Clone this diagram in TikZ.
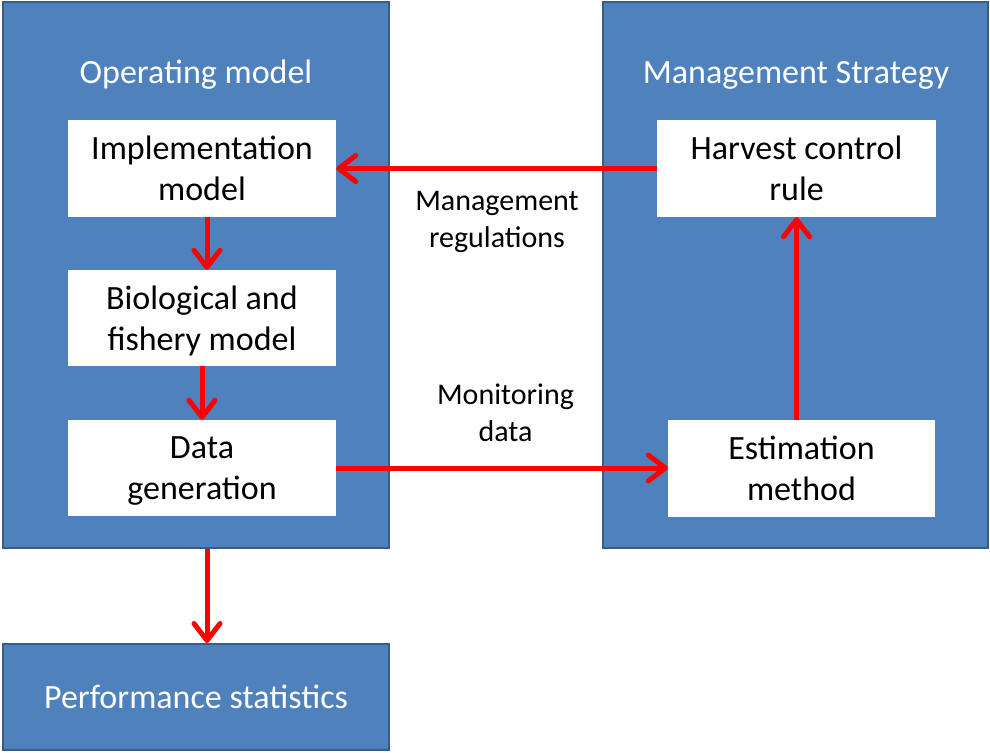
\documentclass[tikz,border=0pt]{standalone}
\usepackage{fontspec}
\setmainfont{Carlito}
\usetikzlibrary{arrows.meta}
\definecolor{panelblue}{HTML}{4F81BD}
\definecolor{paneledge}{HTML}{385D8A}
\definecolor{flowred}{HTML}{FF0000}
\tikzset{
  panel/.style={draw=paneledge, line width=2pt, fill=panelblue, inner sep=0pt},
  stage/.style={fill=white, inner sep=0pt, align=center, text=black,
    text depth=0pt,
    font=\fontsize{34}{41}\selectfont},
  title/.style={text=white, inner sep=0pt, font=\fontsize{34}{40}\selectfont},
  flowlabel/.style={inner sep=0pt, align=center, font=\fontsize{30}{37}\selectfont},
  flow/.style={draw=flowred, line width=5pt,
    -{Straight Barb[length=17pt,width=26pt,line cap=round,line join=round]}}
}
\begin{document}
\begin{tikzpicture}[x=1pt,y=-1pt]
  \useasboundingbox (0,0) rectangle (990,752);

  % outer panels
  \node[panel, minimum width=386pt, minimum height=546pt] (opm) at (196,275) {};
  \node[panel, minimum width=385pt, minimum height=546pt] (mgs) at (795.5,275) {};
  \node[panel, minimum width=386pt, minimum height=106pt, text=white,
        font=\fontsize{34}{40}\selectfont] (perf) at (196,697) {Performance statistics};

  % panel titles
  \node[title, anchor=base] (opmtitle) at (196,83) {Operating model};
  \node[title, anchor=base] (mgstitle) at (796,83) {Management Strategy};

  % stages of the operating model
  \node[stage, minimum width=268pt, minimum height=97pt] (impl) at (202,168.5) {Implementation\\model};
  \node[stage, minimum width=268pt, minimum height=96pt] (bio) at (202,318) {Biological and\\fishery model};
  \node[stage, minimum width=268pt, minimum height=96pt] (datagen) at (202,468) {Data\\generation};

  % stages of the management strategy
  \node[stage, minimum width=279pt, minimum height=97pt] (hcr) at (796.5,168.5) {Harvest control\\rule};
  \node[stage, minimum width=267pt, minimum height=97pt] (est) at (801.5,468.5) {Estimation\\method};

  % connector labels
  \node[flowlabel] (reglabel) at (497,222) {Management\\regulations};
  \node[flowlabel] (monlabel) at (505.5,413) {Monitoring\\data};

  % connectors
  \draw[flow] ([xshift=5]impl.south) -- ([xshift=5]bio.north);
  \draw[flow] (bio.south) -- (datagen.north);
  \draw[flow] (hcr.west) -- (impl.east);
  \draw[flow] (datagen.east) -- (datagen.east -| est.west);
  \draw[flow] (est.north -| hcr.south) -- (hcr.south);
  \draw[flow] ([xshift=11]opm.south) -- ([xshift=11]perf.north);
\end{tikzpicture}
\end{document}
